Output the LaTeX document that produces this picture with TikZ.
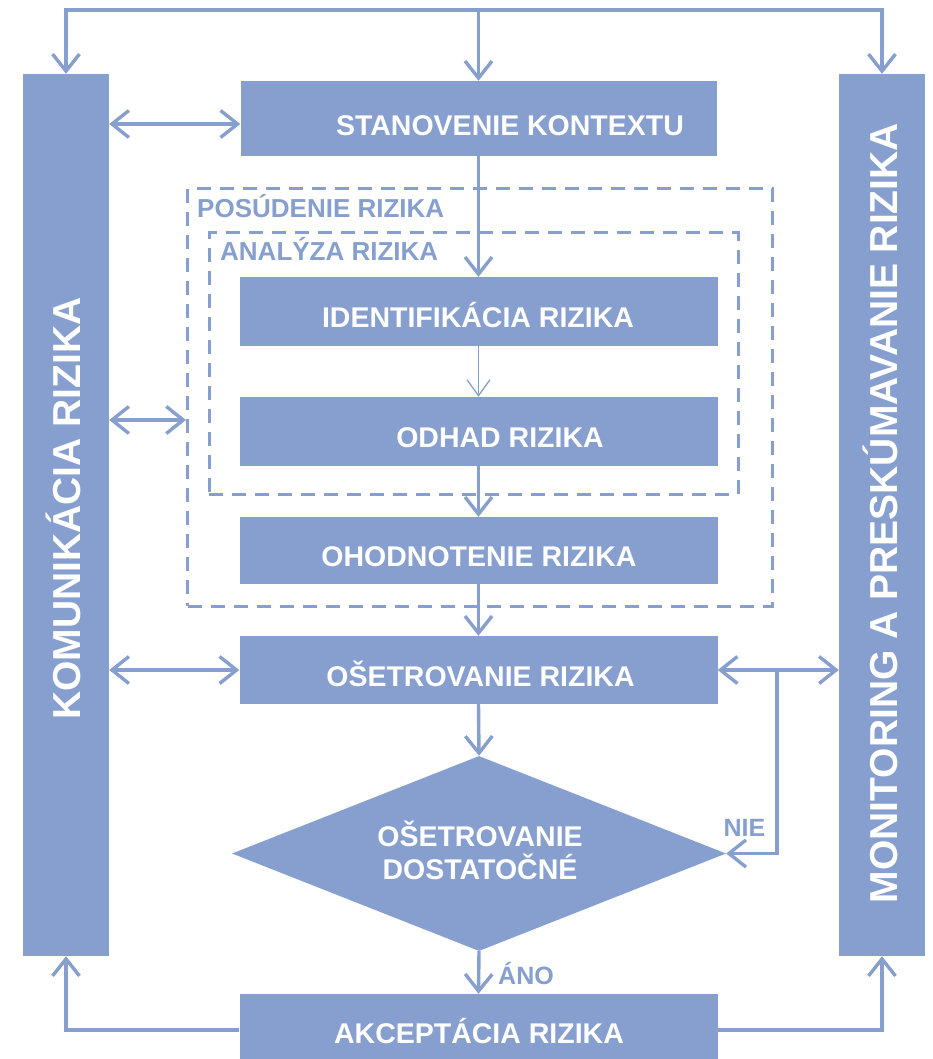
\documentclass[tikz,border=0pt]{standalone}
\usepackage{fontspec}
\setmainfont{Liberation Sans}
\usetikzlibrary{arrows.meta,shapes.geometric}
\definecolor{riskblue}{RGB}{134,159,207}

\begin{document}
\begin{tikzpicture}[x=1pt,y=-1pt,
  box/.style={rectangle, fill=riskblue, draw=none, inner sep=0pt},
  boxlbl/.style={text=white, inner sep=0pt, font=\bfseries\fontsize{28.5}{28.5}\selectfont,
    text height=20.4pt, text depth=0pt},
  barlbl/.style={text=white, inner sep=0pt, rotate=90, font=\bfseries\fontsize{39}{39}\selectfont,
    text height=28pt, text depth=0pt},
  grouplbl/.style={text=riskblue, inner sep=0pt, anchor=west, font=\bfseries\fontsize{26}{26}\selectfont,
    text height=18.6pt, text depth=0pt},
  smalllbl/.style={text=riskblue, inner sep=0pt, font=\bfseries\fontsize{25}{25}\selectfont,
    text height=17.9pt, text depth=0pt},
  groupbox/.style={rectangle, draw=riskblue, line width=3pt, dash pattern=on 14pt off 9pt, inner sep=0pt},
  conn/.style={draw=riskblue, line width=3.4pt, line join=miter},
  arr/.style={conn, -{Straight Barb[length=17pt,width=27pt]}},
  dbl/.style={conn, {Straight Barb[length=17pt,width=27pt]}-{Straight Barb[length=17pt,width=27pt]}},
  thinarr/.style={draw=riskblue, line width=1.3pt, -{Straight Barb[length=16pt,width=23pt]}}
]
\useasboundingbox (0,0) rectangle (933,1059);

% side bars
\node[box, minimum width=86pt, minimum height=882pt] (comm) at (66,515) {};
\node[box, minimum width=86pt, minimum height=882pt] (mon) at (882,515) {};
\node[barlbl] (commlbl) at (66.5,508.5) {KOMUNIKÁCIA RIZIKA};
\node[barlbl] (monlbl) at (883.5,513) {MONITORING A PRESKÚMAVANIE RIZIKA};

% assessment groups
\node[groupbox, minimum width=585pt, minimum height=417pt] (posbox) at (480,397.5) {};
\node[groupbox, minimum width=529pt, minimum height=261pt] (anabox) at (473.5,363.5) {};
\node[grouplbl] (poslbl) at (197,208.5) {POSÚDENIE RIZIKA};
\node[grouplbl] (analbl) at (220,251) {ANALÝZA RIZIKA};

% process steps
\node[box, minimum width=476pt, minimum height=75pt] (ctx) at (478.5,118.5) {};
\node[boxlbl] (ctxlbl) at (510,125) {STANOVENIE KONTEXTU};
\node[box, minimum width=478pt, minimum height=69pt] (ident) at (478.5,311.5) {};
\node[boxlbl] (identlbl) at (478,317.5) {IDENTIFIKÁCIA RIZIKA};
\node[box, minimum width=478pt, minimum height=69pt] (odhad) at (478.5,431.5) {};
\node[boxlbl] (odhadlbl) at (500,437) {ODHAD RIZIKA};
\node[box, minimum width=478pt, minimum height=67pt] (ohod) at (478.5,550.5) {};
\node[boxlbl] (ohodlbl) at (479,556.5) {OHODNOTENIE RIZIKA};
\node[box, minimum width=478pt, minimum height=68pt] (oset) at (478.5,670) {};
\node[boxlbl] (osetlbl) at (480.5,676.5) {OŠETROVANIE RIZIKA};
\node[diamond, fill=riskblue, inner sep=0pt, minimum width=494pt, minimum height=195pt] (dec) at (479,853.5) {};
\node[boxlbl] (declA) at (480,836) {OŠETROVANIE};
\node[boxlbl] (declB) at (480,869) {DOSTATOČNÉ};
\node[box, minimum width=478pt, minimum height=72pt] (akc) at (478.5,1030) {};
\node[boxlbl] (akclbl) at (479,1033) {AKCEPTÁCIA RIZIKA};

% helper levels
\coordinate (topY) at (0,10);
\coordinate (ctxY) at (0,124);
\coordinate (assessY) at (0,420);
\coordinate (nieX) at (777,0);

% top distribution line
\draw[arr] (ctx.north |- topY) -| (comm.north);
\draw[arr] (ctx.north |- topY) -| (mon.north);
\draw[arr] (ctx.north |- topY) -- (ctx.north);

% main flow
\draw[arr] (ctx.south) -- (ctx.south |- ident.north);
\draw[thinarr] (ident.south) -- (odhad.north);
\draw[arr] (odhad.south) -- (ohod.north);
\draw[arr] (ohod.south) -- (oset.north);
\draw[arr] (oset.south) -- (dec.north);
\draw[arr] (dec.south) -- (akc.north);
\node[smalllbl, anchor=west] (ano) at (498,976) {ÁNO};

% communication links
\draw[dbl] (comm.east |- ctxY) -- (ctx.west |- ctxY);
\draw[dbl] (comm.east |- assessY) -- (posbox.west |- assessY);
\draw[dbl] (comm.east |- oset.west) -- (oset.west);

% monitoring link and feedback loop
\draw[dbl] (oset.east) -- (mon.west |- oset.east);
\draw[arr] (nieX |- oset.east) |- (dec.east);
\node[smalllbl] (nie) at (744.5,827.5) {NIE};

% acceptance outputs
\draw[arr] (akc.west) -| (comm.south);
\draw[arr] (akc.east) -| (mon.south);
\end{tikzpicture}
\end{document}
